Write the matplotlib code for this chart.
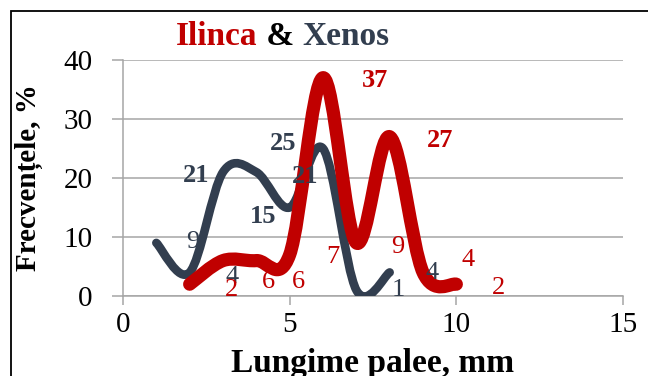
import numpy as np
import matplotlib
matplotlib.use("Agg")
import matplotlib.pyplot as plt
from matplotlib.path import Path
from matplotlib.patches import PathPatch, Rectangle

RED = "#C00000"
SLATE = "#323E4F"
GRID = "#A6A6A6"
SERIF = ["Liberation Serif", "DejaVu Serif"]

# Xenos series
xenos_x = [1, 2, 3, 4, 5, 6, 7, 8]
xenos_y = [9, 4, 21, 21, 15, 25, 1, 4]
# Ilinca series
ilinca_x = [2, 3, 4, 5, 6, 7, 8, 9, 10]
ilinca_y = [2, 6, 6, 7, 37, 9, 27, 4, 2]

# where each value label sits relative to its point (data units)
xenos_ldx = [1.10, 1.27, -0.81, 1.47, -0.80, -1.20, 1.26, 1.28]
xenos_ldy = [0.2, -0.8, -0.5, -0.8, -1.6, 0.9, 0.0, -0.1]
ilinca_ldx = [1.27, 1.35, 1.26, 1.30, 1.57, 1.23, 1.52, 1.36, 1.26]
ilinca_ldy = [-1.0, -3.6, -3.6, -0.4, -0.4, -0.7, -0.6, 2.1, -0.6]


def smooth_path(xs, ys):
    """Cubic Bezier path through the points (Catmull-Rom style tangents)."""
    p = np.column_stack([xs, ys]).astype(float)
    n = len(p)
    verts = [p[0]]
    codes = [Path.MOVETO]
    for i in range(n - 1):
        p0 = p[i - 1] if i > 0 else p[i]
        p3 = p[i + 2] if i + 2 < n else p[i + 1]
        c1 = p[i] + (p[i + 1] - p0) / 6.0
        c2 = p[i + 1] - (p3 - p[i]) / 6.0
        verts += [c1, c2, p[i + 1]]
        codes += [Path.CURVE4] * 3
    return Path(verts, codes)


fig = plt.figure(figsize=(6.48, 3.76), dpi=100)
ax = fig.add_axes([123 / 648, 1 - 296 / 376, 500 / 648, 236 / 376])

# outer chart frame (runs off the right and bottom edges)
fig.patches.append(Rectangle((11 / 648, -0.2), 1.2, 1 - 11 / 376 + 0.2,
                             transform=fig.transFigure, fill=False,
                             ec="black", lw=1.3))

ax.add_patch(PathPatch(smooth_path(xenos_x, xenos_y), fill=False, ec=SLATE,
                       lw=6.2, capstyle="round", joinstyle="round", zorder=3))
ax.add_patch(PathPatch(smooth_path(ilinca_x, ilinca_y), fill=False, ec=RED,
                       lw=9.5, capstyle="round", joinstyle="round", zorder=4))

for x, y, dx, dy in zip(xenos_x, xenos_y, xenos_ldx, xenos_ldy):
    ax.text(x + dx, y + dy, str(y), color=SLATE, fontsize=19, family=SERIF,
            fontweight="bold" if y >= 10 else "normal",
            ha="center", va="center", zorder=6)
for x, y, dx, dy in zip(ilinca_x, ilinca_y, ilinca_ldx, ilinca_ldy):
    ax.text(x + dx, y + dy, str(y), color=RED, fontsize=19, family=SERIF,
            fontweight="bold" if y >= 10 else "normal",
            ha="center", va="center", zorder=6)

ax.set_xlim(0, 15)
ax.set_ylim(0, 40)
ax.set_xticks([0, 5, 10, 15])
ax.set_yticks([0, 10, 20, 30, 40])
ax.yaxis.grid(True, color=GRID, lw=1.1)
ax.set_axisbelow(True)
for sp in ("top", "right"):
    ax.spines[sp].set_visible(False)
for sp in ("left", "bottom"):
    ax.spines[sp].set_color(GRID)
    ax.spines[sp].set_linewidth(1.1)
ax.tick_params(axis="y", length=8, width=1.1, color=GRID, pad=14)
ax.tick_params(axis="x", length=6.5, width=1.1, color=GRID, pad=5)
for lab in ax.get_xticklabels() + ax.get_yticklabels():
    lab.set_fontfamily(SERIF)
    lab.set_fontsize(21)

fig.text(29 / 648, 1 - 178 / 376, "Frecvențele, %", rotation=90, ha="center",
         va="center", fontsize=21, fontweight="bold", family=SERIF)
fig.text(373 / 648, 1 - 372 / 376, "Lungime palee, mm", ha="center",
         va="baseline", fontsize=24, fontweight="bold", family=SERIF)

# two-colour title
t1 = fig.text(176 / 648, 1 - 45 / 376, "Ilinca", color=RED, fontsize=24,
              fontweight="bold", family=SERIF, ha="left", va="baseline")
t2 = ax.annotate(" & ", xy=(1, 0), xycoords=t1, color="black", fontsize=24,
                 fontweight="bold", family=SERIF, ha="left", va="bottom",
                 annotation_clip=False)
t3 = ax.annotate("Xenos", xy=(1, 0), xycoords=t2, color=SLATE, fontsize=24,
                 fontweight="bold", family=SERIF, ha="left", va="bottom",
                 annotation_clip=False)

fig.savefig("out.png", dpi=100)
